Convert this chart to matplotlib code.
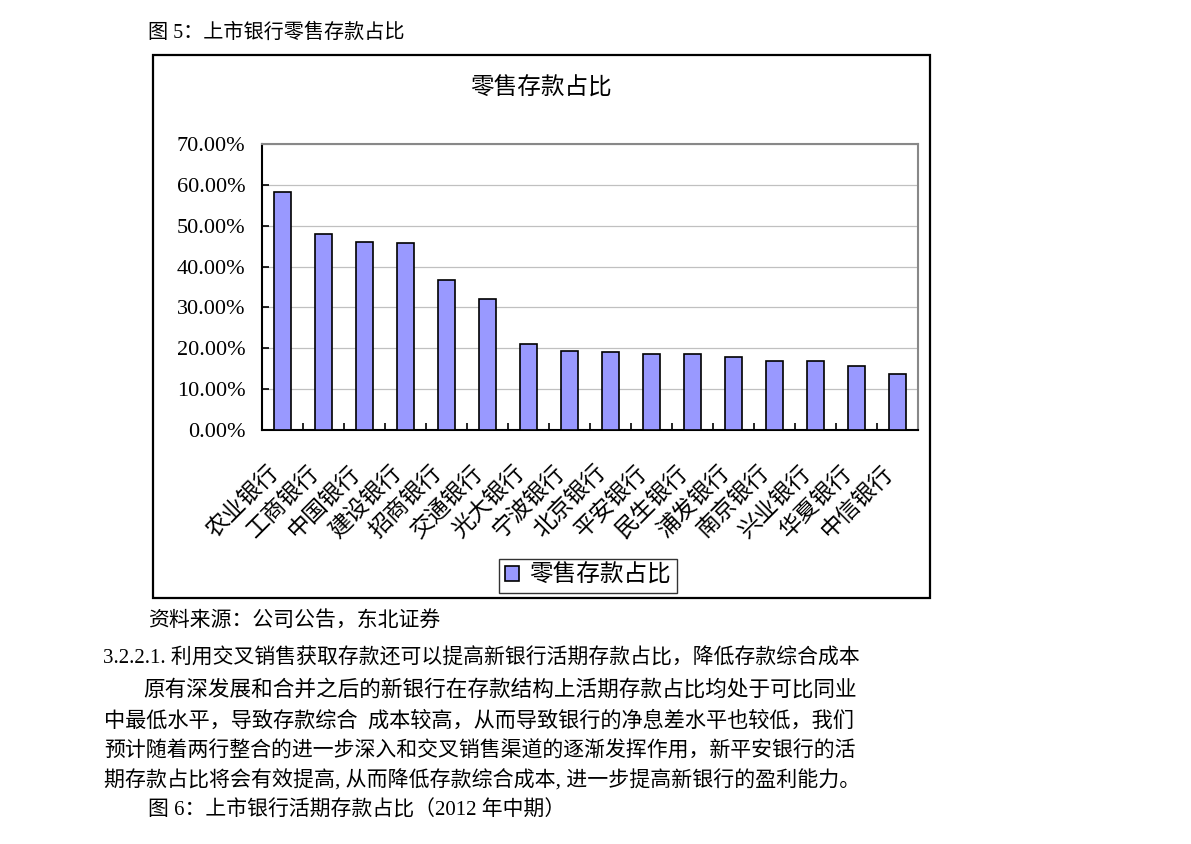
import matplotlib
matplotlib.use('Agg')
import matplotlib.pyplot as plt
import matplotlib.transforms as mtransforms
import numpy as np
from matplotlib.patches import Rectangle
from matplotlib.ticker import FixedLocator

plt.rcParams['font.family'] = ['Liberation Serif', 'Noto Sans CJK SC']

banks = ['农业银行', '工商银行', '中国银行', '建设银行', '招商银行', '交通银行',
         '光大银行', '宁波银行', '北京银行', '平安银行', '民生银行', '浦发银行',
         '南京银行', '兴业银行', '华夏银行', '中信银行']
retail_share = [58.2, 48.0, 46.1, 45.8, 36.6, 32.1, 21.1, 19.3, 19.0, 18.7,
                18.6, 17.9, 16.8, 16.8, 15.7, 13.8]
yticks = [0, 10, 20, 30, 40, 50, 60, 70]
series_name = '零售存款占比'
chart_title = '零售存款占比'

caption_top = '图 5：上市银行零售存款占比'
source = '资料来源：公司公告，东北证券'
# (start x, end x, text) for the justified paragraph lines
body_lines = [
    (103, 857, '3.2.2.1. 利用交叉销售获取存款还可以提高新银行活期存款占比，降低存款综合成本'),
    (143, 855, '原有深发展和合并之后的新银行在存款结构上活期存款占比均处于可比同业'),
    (104, 855, '中最低水平，导致存款综合  成本较高，从而导致银行的净息差水平也较低，我们'),
    (104, 855, '预计随着两行整合的进一步深入和交叉销售渠道的逐渐发挥作用，新平安银行的活'),
    (104, 857, '期存款占比将会有效提高, 从而降低存款综合成本, 进一步提高新银行的盈利能力。'),
]
caption_bottom = '图 6：上市银行活期存款占比（2012 年中期）'

W, H = 1191, 844
fig = plt.figure(figsize=(W / 100, H / 100), dpi=100)


def fx(px):
    return px / W


def fy(py):
    return 1 - py / H


# outer chart frame
fig.patches.append(Rectangle((fx(153), fy(598)), fx(930) - fx(153), fy(55) - fy(598),
                             transform=fig.transFigure, fill=False,
                             edgecolor='black', linewidth=1.6))

ax = fig.add_axes([fx(262), fy(430), fx(918) - fx(262), fy(144) - fy(430)])
x = np.arange(len(banks))
ax.bar(x, retail_share, width=0.42, color='#9999ff', edgecolor='black',
       linewidth=1.2, label=series_name, zorder=3)

ax.set_xlim(-0.5, len(banks) - 0.5)
ax.set_ylim(0, 70)
ax.set_yticks(yticks)
ax.set_yticklabels(['%.2f%%' % v for v in yticks], fontsize=16)
ax.set_xticks(x)
ax.set_xticklabels(banks, rotation=45, ha='right', va='top', fontsize=16.5)
shift = mtransforms.ScaledTranslation(-7 / 100, 0, fig.dpi_scale_trans)
for lab in ax.get_xticklabels():
    lab.set_transform(lab.get_transform() + shift)
ax.xaxis.set_minor_locator(FixedLocator(np.arange(0.5, len(banks) - 0.5, 1)))
ax.tick_params(axis='x', which='major', length=0, pad=23)
ax.tick_params(axis='x', which='minor', direction='in', length=5, width=1.2)
ax.tick_params(axis='y', direction='in', length=5, width=1.2, pad=12)

ax.grid(axis='y', color='#c0c0c0', linewidth=0.9, zorder=0)
for s in ['top', 'right']:
    ax.spines[s].set_color('#888888')
    ax.spines[s].set_linewidth(1.5)
for s in ['left', 'bottom']:
    ax.spines[s].set_color('black')
    ax.spines[s].set_linewidth(1.5)

fig.text(fx(541), fy(89), chart_title, ha='center', va='center', fontsize=17)

leg = fig.legend(loc='center', bbox_to_anchor=(fx(588), fy(576)), fontsize=17,
                 frameon=True, fancybox=False, handlelength=0.6, handleheight=0.6,
                 handletextpad=0.4, borderpad=0.25, borderaxespad=0)
leg.get_frame().set_edgecolor('black')
leg.get_frame().set_linewidth(1.0)

# surrounding document text
fig.text(fx(148), fy(33), caption_top, ha='left', va='center', fontsize=14.5)
fig.text(fx(148), fy(621), source, ha='left', va='center', fontsize=15)
line_y = [659, 690, 721, 752, 781]
body_texts = []
for (x0, x1, line), yy in zip(body_lines, line_y):
    t = fig.text(fx(x0), fy(yy), line, ha='left', va='center', fontsize=15.5)
    body_texts.append((t, x1 - x0))
fig.text(fx(148), fy(811), caption_bottom, ha='left', va='center', fontsize=15)

# fit each paragraph line to its column width
renderer = fig.canvas.get_renderer()
for t, target in body_texts:
    w = t.get_window_extent(renderer).width
    t.set_fontsize(t.get_fontsize() * target / w)

fig.savefig('out.png', dpi=100)
